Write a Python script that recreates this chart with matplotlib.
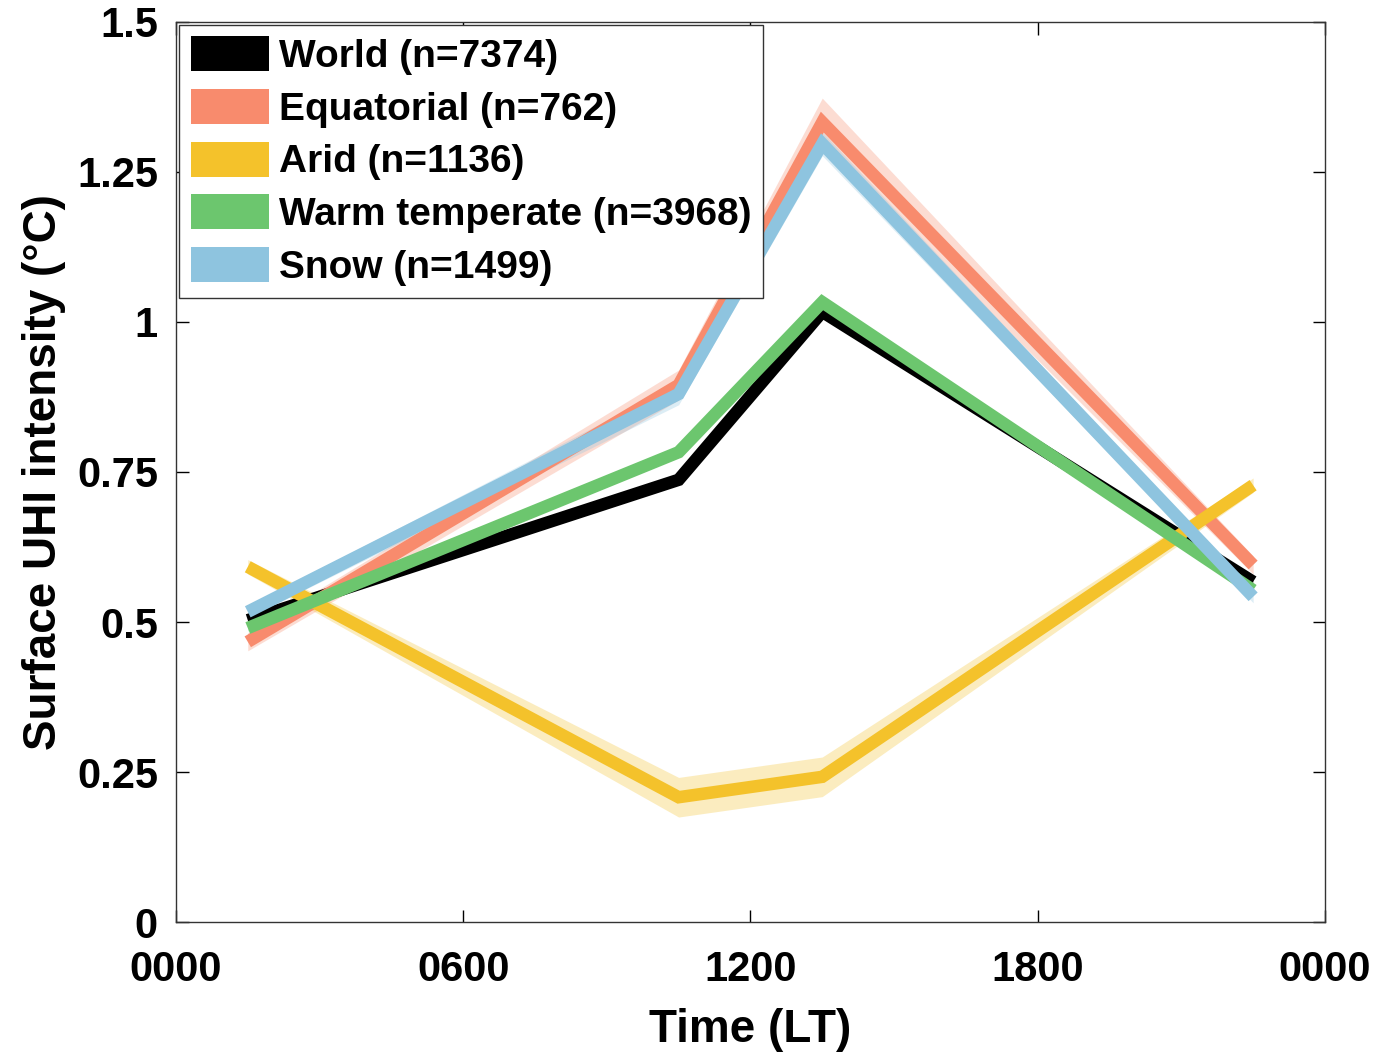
import matplotlib
matplotlib.use("Agg")
import matplotlib.pyplot as plt
from matplotlib.patches import Patch
import numpy as np

plt.rcParams['font.family'] = ['Liberation Sans', 'DejaVu Sans']
plt.rcParams['font.weight'] = 'bold'

hours = [1.5, 10.5, 13.5, 22.5]
names = ["World (n=7374)", "Equatorial (n=762)", "Arid (n=1136)",
         "Warm temperate (n=3968)", "Snow (n=1499)"]
world = [0.503, 0.737, 1.017, 0.567]
equatorial = [0.467, 0.895, 1.333, 0.595]
arid = [0.592, 0.208, 0.242, 0.728]
warm = [0.490, 0.783, 1.033, 0.553]
snow = [0.517, 0.880, 1.297, 0.542]
# half-width of shaded uncertainty bands
world_err = [0.004, 0.006, 0.008, 0.005]
equatorial_err = [0.015, 0.025, 0.040, 0.015]
arid_err = [0.012, 0.033, 0.033, 0.012]
warm_err = [0.005, 0.008, 0.010, 0.006]
snow_err = [0.010, 0.018, 0.020, 0.010]

colors = ["#000000", "#F88B6D", "#F4C22B", "#6CC66E", "#8EC4DF"]
series = [world, equatorial, arid, warm, snow]
errs = [world_err, equatorial_err, arid_err, warm_err, snow_err]

xticks = [0, 6, 12, 18, 24]
xticklabels = ["0000", "0600", "1200", "1800", "0000"]
yticks = [0, 0.25, 0.5, 0.75, 1, 1.25, 1.5]
yticklabels = ["0", "0.25", "0.5", "0.75", "1", "1.25", "1.5"]

fig = plt.figure(figsize=(13.79, 10.54), dpi=100)
ax = fig.add_axes([0.1276, 0.1252, 0.8332, 0.854])

for vals, err, c in zip(series, errs, colors):
    v = np.array(vals); e = np.array(err)
    ax.fill_between(hours, v - e, v + e, color=c, alpha=0.3, lw=0)
    ax.plot(hours, v, color=c, lw=9, solid_capstyle='butt', solid_joinstyle='miter')

ax.set_xlim(0, 24)
ax.set_ylim(0, 1.5)
ax.set_xticks(xticks)
ax.set_xticklabels(xticklabels)
ax.set_yticks(yticks)
ax.set_yticklabels(yticklabels)
ax.tick_params(direction='in', length=9, width=1, top=True, right=True,
               labelsize=30)
ax.tick_params(axis='x', pad=20)
ax.tick_params(axis='y', pad=13)
for lab in ax.get_xticklabels() + ax.get_yticklabels():
    lab.set_fontweight('bold')
for s in ax.spines.values():
    s.set_linewidth(1.0)
    s.set_color('#333333')

ax.set_xlabel("Time (LT)", fontsize=33, fontweight='bold', labelpad=13)
ax.set_ylabel("Surface UHI intensity (°C)", fontsize=33, fontweight='bold', labelpad=8)

handles = [Patch(facecolor=c, edgecolor='none') for c in colors]
leg = ax.legend(handles, names, loc='upper left', bbox_to_anchor=(0.003, 0.997),
                prop={'weight': 'bold', 'size': 28},
                handlelength=2.0, handleheight=1.0, handletextpad=0.25,
                labelspacing=0.36, borderpad=0.3, borderaxespad=0.0,
                fancybox=False, framealpha=1, edgecolor='#333333')
leg.get_frame().set_linewidth(1.0)

fig.savefig("out.png", dpi=100)
